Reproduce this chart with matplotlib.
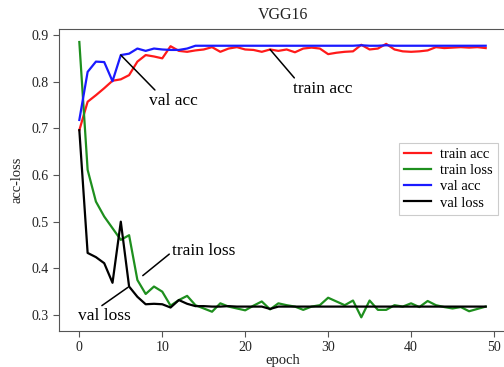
import matplotlib
matplotlib.use("Agg")
import matplotlib.pyplot as plt
import numpy as np

plt.rcParams['font.family'] = ['Liberation Serif', 'DejaVu Serif']

epochs = np.arange(50)

train_acc = [0.696, 0.757, 0.771, 0.786, 0.802, 0.805, 0.814, 0.843, 0.857, 0.854,
             0.850, 0.876, 0.866, 0.864, 0.867, 0.869, 0.874, 0.864, 0.871, 0.874,
             0.869, 0.868, 0.864, 0.869, 0.866, 0.869, 0.863, 0.871, 0.873, 0.871,
             0.859, 0.862, 0.864, 0.865, 0.879, 0.869, 0.871, 0.881, 0.869, 0.865,
             0.864, 0.865, 0.867, 0.874, 0.872, 0.873, 0.874, 0.873, 0.874, 0.872]

train_loss = [0.885, 0.611, 0.543, 0.511, 0.486, 0.461, 0.471, 0.375, 0.345, 0.361,
              0.350, 0.320, 0.332, 0.341, 0.321, 0.314, 0.307, 0.325, 0.318, 0.314,
              0.310, 0.320, 0.329, 0.312, 0.325, 0.321, 0.318, 0.311, 0.318, 0.321,
              0.337, 0.329, 0.321, 0.331, 0.295, 0.331, 0.311, 0.311, 0.321, 0.318,
              0.325, 0.317, 0.330, 0.321, 0.317, 0.314, 0.317, 0.308, 0.313, 0.318]

val_acc = [0.718, 0.821, 0.843, 0.842, 0.801, 0.857, 0.860, 0.871, 0.866, 0.871,
           0.869, 0.868, 0.868, 0.871, 0.877, 0.877, 0.877, 0.877, 0.877, 0.877,
           0.877, 0.877, 0.877, 0.877, 0.877, 0.877, 0.877, 0.877, 0.877, 0.877,
           0.877, 0.877, 0.877, 0.877, 0.878, 0.877, 0.877, 0.878, 0.877, 0.877,
           0.877, 0.877, 0.877, 0.877, 0.877, 0.877, 0.877, 0.877, 0.877, 0.877]

val_loss = [0.696, 0.433, 0.424, 0.411, 0.369, 0.500, 0.361, 0.339, 0.323, 0.324,
            0.323, 0.316, 0.332, 0.324, 0.319, 0.319, 0.318, 0.318, 0.319, 0.318,
            0.318, 0.318, 0.318, 0.313, 0.318, 0.318, 0.318, 0.318, 0.318, 0.318,
            0.318, 0.318, 0.318, 0.318, 0.318, 0.318, 0.318, 0.318, 0.318, 0.318,
            0.318, 0.318, 0.318, 0.318, 0.318, 0.318, 0.318, 0.318, 0.318, 0.318]

fig = plt.figure(figsize=(5.04, 3.67), dpi=100)
ax = fig.add_axes([0.1171, 0.0981, 0.8869, 0.8229])

lw = 1.6
ax.plot(epochs, train_acc, color='#ff1a1a', lw=lw, label='train acc')
ax.plot(epochs, train_loss, color='#1e8f1e', lw=lw, label='train loss')
ax.plot(epochs, val_acc, color='#1a1aff', lw=lw, label='val acc')
ax.plot(epochs, val_loss, color='black', lw=lw, label='val loss')

ax.set_xlim(-2.45, 51.45)
ax.set_ylim(0.2657, 0.9129)
ax.set_xticks([0, 10, 20, 30, 40, 50])
ax.set_yticks([0.3, 0.4, 0.5, 0.6, 0.7, 0.8, 0.9])

spine_col = '#555555'
for s in ax.spines.values():
    s.set_color(spine_col)
ax.tick_params(colors=spine_col, labelcolor='#222222', labelsize=10, length=4)

ax.set_title('VGG16', fontsize=11.5, color='#222222', pad=7)
ax.set_xlabel('epoch', fontsize=10.5, color='#222222', labelpad=0)
ax.set_ylabel('acc-loss', fontsize=10.5, color='#222222', labelpad=6)

leg = ax.legend(loc='upper right', bbox_to_anchor=(0.982, 0.623), fontsize=10.5,
                fancybox=False, edgecolor='#cccccc', framealpha=1,
                handlelength=1.9, handletextpad=0.6, labelspacing=0.2,
                borderpad=0.35, borderaxespad=0)
leg.get_frame().set_linewidth(0.8)

afs = 12.5
ax.annotate('val acc', xy=(5, val_acc[5]), xytext=(11.3, 0.759),
            ha='center', va='center', fontsize=afs,
            arrowprops=dict(arrowstyle='-', color='black', lw=1.1,
                            relpos=(0.2, 0.95), shrinkA=0, shrinkB=0))
ax.annotate('train acc', xy=(23, train_acc[23]), xytext=(29.3, 0.785),
            ha='center', va='center', fontsize=afs,
            arrowprops=dict(arrowstyle='-', color='black', lw=1.1,
                            relpos=(0.08, 0.95), shrinkA=0, shrinkB=0))
ax.annotate('train loss', xy=(7, train_loss[7]), xytext=(15.0, 0.437),
            ha='center', va='center', fontsize=afs,
            arrowprops=dict(arrowstyle='-', color='black', lw=1.1,
                            relpos=(0.0, 0.45), shrinkA=0, shrinkB=5))
ax.annotate('val loss', xy=(6, val_loss[6]), xytext=(3.06, 0.297),
            ha='center', va='center', fontsize=afs,
            arrowprops=dict(arrowstyle='-', color='black', lw=1.1,
                            relpos=(0.35, 0.95), shrinkA=0, shrinkB=1))

fig.savefig('out.png', dpi=100)
